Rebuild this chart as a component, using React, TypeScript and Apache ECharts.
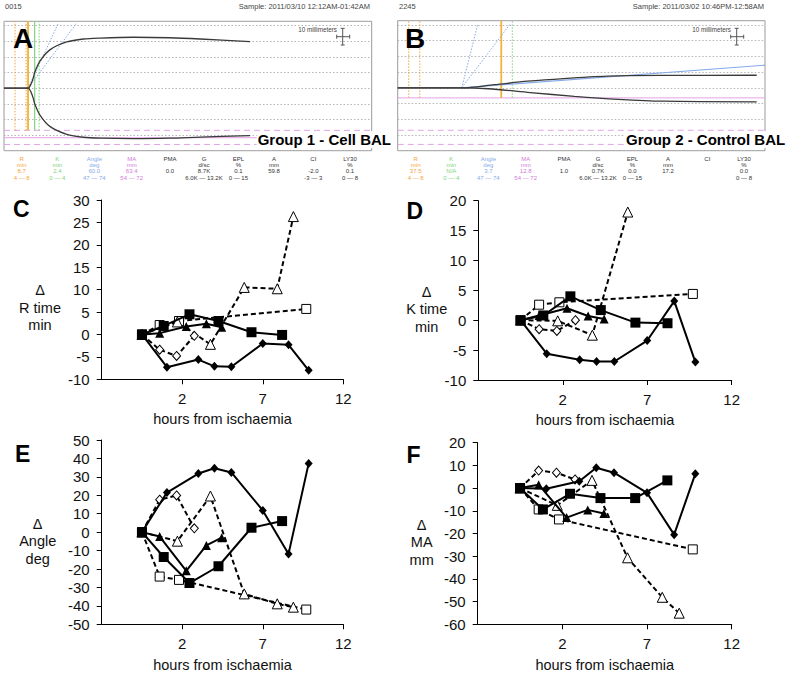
import React, { useEffect, useRef } from "react";
import * as echarts from "echarts";

const FONT = "'Liberation Sans', Arial, Helvetica, sans-serif";

// ---------------- Panels C–F : hours from ischaemia per animal ----------------
const hoursFilledDiamond = [-0.5, 1.05, 3.0, 4.0, 5.05, 7.0, 8.6, 9.85];
const hoursFilledSquare = [-0.5, 0.85, 2.45, 4.25, 6.3, 8.2];
const hoursFilledTriangle = [-0.5, 0.6, 2.25, 3.5, 4.45];
const hoursOpenDiamond = [-0.5, 0.6, 1.65, 2.75];
const hoursOpenSquare = [-0.5, 0.6, 1.8, 9.7];
const hoursOpenTriangle = [-0.5, 1.7, 3.75, 5.85, 7.9, 8.9];

// C: Δ R time (min)
const rFilledDiamond = [0, -7.3, -5.6, -7.1, -7.2, -2.0, -2.3, -8.0];
const rFilledSquare = [0, 1.9, 4.5, 3.0, 0.5, -0.1];
const rFilledTriangle = [0, 0.3, 1.8, 2.4, 1.6];
const rOpenDiamond = [0, -3.4, -4.8, -0.3];
const rOpenSquare = [0, 2.1, 3.0, 5.7];
const rOpenTriangle = [0, 2.8, -2.2, 10.5, 10.2, 26.3];

// D: Δ K time (min)
const kFilledDiamond = [0, -5.6, -6.6, -6.9, -6.9, -3.4, 3.2, -7.0];
const kFilledSquare = [0, 0.8, 4.0, 1.7, -0.4, -0.5];
const kFilledTriangle = [0, 0.8, 2.0, 0.7, 0.2];
const kOpenDiamond = [0, -1.5, -1.8, 0.0];
const kOpenSquare = [0, 2.6, 3.0, 4.4];
const kOpenTriangle = [0, -0.1, -2.5, 18.1];

// E: Δ Angle (deg)
const angleFilledDiamond = [0, 21.5, 31.8, 34.7, 32.4, 11.8, -11.8, 37.3];
const angleFilledSquare = [0, -13.5, -27.6, -18.5, 2.4, 6.0];
const angleFilledTriangle = [0, -2.4, -21, -7.2, -3.0];
const angleOpenDiamond = [0, 17.6, 19.9, 2.1];
const angleOpenSquare = [0, -24.1, -25.9, -42];
const angleOpenTriangle = [0, -4.9, 19.6, -33.5, -38.9, -40.7];

// F: Δ MA (mm)
const maFilledDiamond = [0, -0.3, 3.0, 9.0, 6.8, -2.1, -20.5, 6.3];
const maFilledSquare = [0, -9.4, -2.5, -4.4, -4.4, 3.4];
const maFilledTriangle = [0, 1.5, -13, -9.6, -11.2];
const maOpenDiamond = [0, 7.7, 6.8, 3.8];
const maOpenSquare = [0, -9.4, -13.8, -27];
const maOpenTriangle = [0, -7.6, 3.4, -30.7, -48.1, -55.1];

const xTickValues = [2, 7, 12];
const xAxisTitle = "hours from ischaemia";

// ---------------- Panels A, B : TEG tracings ----------------
const tegColumns = ["R", "K", "Angle", "MA", "PMA", "G", "EPL", "A", "CI", "LY30"];
const tegUnits = ["min", "min", "deg", "mm", "", "d/sc", "%", "mm", "", "%"];
const tegValuesA = ["8.7", "2.4", "60.0", "63.4", "0.0", "8.7K", "0.1", "59.8", "-2.0", "0.1"];
const tegRangesA = ["4 — 8", "0 — 4", "47 — 74", "54 — 72", "", "6.0K — 13.2K", "0 — 15", "", "-3 — 3", "0 — 8"];
const tegValuesB = ["37.5", "N/A", "3.7", "12.8", "1.0", "0.7K", "0.0", "17.2", "", "0.0"];
const tegRangesB = ["4 — 8", "0 — 4", "47 — 74", "54 — 72", "", "6.0K — 13.2K", "0 — 15", "", "", "0 — 8"];
const tegIdA = "0015";
const tegSampleA = "Sample: 2011/03/10 12:12AM-01:42AM";
const tegIdB = "2245";
const tegSampleB = "Sample: 2011/03/02 10:46PM-12:58AM";
const groupLabelA = "Group 1 - Cell BAL";
const groupLabelB = "Group 2 - Control BAL";

const rNormal = [4, 8]; // min
const kNormalMax = 4; // min
const maNormal = [54, 72]; // mm

// trace A (minutes, mm)
const tegATime = [0, 8.7, 9.8, 10.6, 11.1, 13.0, 16.7, 22.7, 28.7, 34.8, 46.7, 60, 71, 89];
const tegAUpper = [0, 0, 2.7, 6.6, 10, 17.2, 24.6, 29.5, 31.4, 32.0, 32.5, 32.2, 31.4, 29.7];
const tegALower = [0, 0, -2.7, -6.6, -10, -17.2, -24.6, -29.5, -31.4, -32.0, -32.3, -32.0, -31.3, -30.4];
const tegAAngleTips = [[19.7, 41.6], [26.3, 41.6]];

// trace B (minutes, mm)
const tegBUpperTime = [0, 23.2, 35, 47, 60, 76, 95, 130];
const tegBUpper = [0, 0, 2.0, 4.2, 5.9, 7.4, 7.9, 8.0];
const tegBLowerTime = [0, 23.2, 32.8, 48, 64, 80, 96, 130];
const tegBLower = [0, 0, -0.6, -3.0, -5.4, -7.3, -8.5, -8.9];
const tegBAngleTips = [[29, 40.5], [40.7, 40.5]];
const tegBAngleLine = [[23.2, 0], [133, 14.4]];

const TEG_MINUTES = 133;

// ---------------- styles ----------------
const ORANGE = "#f2a53c";
const ORANGE_SOLID = "#f1b33a";
const GREEN = "#7ed47e";
const BLUE = "#86abe8";
const PINK = "#e2a4e6";
const tegColColors = [ORANGE, GREEN, BLUE, "#d47ad9", "#333", "#333", "#333", "#333", "#333", "#333"];

const markerStyles = [
  { symbol: "diamond", size: [8, 9], open: false },
  { symbol: "rect", size: 10, open: false },
  { symbol: "triangle", size: 9, open: false },
  { symbol: "diamond", size: [8, 9], open: true },
  { symbol: "rect", size: 9, open: true },
  { symbol: "triangle", size: 10, open: true },
];
const hoursBySeries = [
  hoursFilledDiamond,
  hoursFilledSquare,
  hoursFilledTriangle,
  hoursOpenDiamond,
  hoursOpenSquare,
  hoursOpenTriangle,
];

const panels = [
  {
    letter: "C",
    title: "Δ\nR time\nmin",
    ys: [rFilledDiamond, rFilledSquare, rFilledTriangle, rOpenDiamond, rOpenSquare, rOpenTriangle],
    yMin: -10, yMax: 30, yInterval: 5,
    grid: { left: 101.7, top: 200, width: 241.6, height: 179.3 },
    letterPos: [13, 208.5], titlePos: [40, 307.8], nameGap: 32,
  },
  {
    letter: "D",
    title: "Δ\nK time\nmin",
    ys: [kFilledDiamond, kFilledSquare, kFilledTriangle, kOpenDiamond, kOpenSquare, kOpenTriangle],
    yMin: -10, yMax: 20, yInterval: 5,
    grid: { left: 478.3, top: 200.7, width: 253.4, height: 179.3 },
    letterPos: [406.5, 210.8], titlePos: [426.7, 309], nameGap: 32,
  },
  {
    letter: "E",
    title: "Δ\nAngle\ndeg",
    ys: [angleFilledDiamond, angleFilledSquare, angleFilledTriangle, angleOpenDiamond, angleOpenSquare, angleOpenTriangle],
    yMin: -50, yMax: 50, yInterval: 10,
    grid: { left: 101.7, top: 440, width: 241.6, height: 184.3 },
    letterPos: [15, 454], titlePos: [37.7, 541], nameGap: 33,
  },
  {
    letter: "F",
    title: "Δ\nMA\nmm",
    ys: [maFilledDiamond, maFilledSquare, maFilledTriangle, maOpenDiamond, maOpenSquare, maOpenTriangle],
    yMin: -60, yMax: 20, yInterval: 10,
    grid: { left: 477.7, top: 442.7, width: 254, height: 181.6 },
    letterPos: [406.5, 455], titlePos: [421.7, 542], nameGap: 33,
  },
];

const zip = (xs: number[], ys: number[]) => xs.map((x, i) => [x, ys[i]]);

function lineSeries(gi: number, data: number[][], color: string, width: number, type: any, smooth: any = false, z = 2) {
  return {
    type: "line",
    xAxisIndex: gi,
    yAxisIndex: gi,
    data,
    symbol: "none",
    smooth,
    silent: true,
    z,
    lineStyle: { color, width, type },
  };
}

function tegSeries(gi: number, values: string[], traces: number[][][], angleTips: number[][], extraBlue?: number[][]) {
  const r = parseFloat(values[0]);
  const k = parseFloat(values[1]);
  const ma = parseFloat(values[3]);
  const top = 42.7;
  const bottom = Math.max(-ma / 2, -maNormal[0] / 2);
  const out: any[] = [];
  out.push(lineSeries(gi, [[0, -maNormal[0] / 2], [TEG_MINUTES, -maNormal[0] / 2]], PINK, 1, [6, 4]));
  out.push(lineSeries(gi, [[0, -maNormal[1] / 2], [TEG_MINUTES, -maNormal[1] / 2]], PINK, 1, [6, 4]));
  out.push(lineSeries(gi, [[0, -ma / 2], [TEG_MINUTES, -ma / 2]], PINK, 1, "solid"));
  rNormal.forEach((v) => out.push(lineSeries(gi, [[v, bottom], [v, top]], ORANGE, 1, [1.5, 1.5])));
  out.push(lineSeries(gi, [[r, bottom], [r, top]], ORANGE_SOLID, 1.8, "solid"));
  if (isFinite(k)) out.push(lineSeries(gi, [[r + k, bottom], [r + k, top]], GREEN, 1.2, "solid"));
  out.push(lineSeries(gi, [[r + kNormalMax, bottom], [r + kNormalMax, top]], GREEN, 1, [1.5, 1.5]));
  const origin = traces[0].find((p, i) => i > 0 && p[1] === 0 && traces[0][i + 1] && traces[0][i + 1][1] !== 0) || traces[0][1];
  angleTips.forEach((tip) => out.push(lineSeries(gi, [origin, tip], BLUE, 1, [1.5, 1.5])));
  if (extraBlue) out.push(lineSeries(gi, extraBlue, BLUE, 1.2, "solid"));
  traces.forEach((t) => out.push(lineSeries(gi, t, "#3a3a3a", 1.3, "solid", 0.3, 4)));
  return out;
}

function tegText(dx: number, id: string, sample: string, values: string[], ranges: string[], group: string) {
  const colX = [21.7, 57.3, 94.3, 131.7, 170, 204, 238.3, 274, 313.3, 350];
  const rowY = [159.3, 165, 171.3, 177.6];
  const els: any[] = [];
  const t = (x: number, y: number, text: string, fill: string, size: number, align = "center", extra: any = {}) => ({
    type: "text",
    x,
    y,
    silent: true,
    z: 10,
    style: { text, fill, fontSize: size, fontFamily: FONT, align, verticalAlign: "middle", ...extra },
  });
  els.push(t(5 + dx, 6.7, id, "#444", 7.5, "left"));
  els.push(t(370 + dx, 6.7, sample, "#444", 7.5, "right"));
  tegColumns.forEach((c, i) => {
    const x = colX[i] + dx;
    const col = tegColColors[i];
    els.push(t(x, rowY[0], c, col, 6));
    if (tegUnits[i]) els.push(t(x, rowY[1], tegUnits[i], col, 6));
    if (values[i]) els.push(t(x, rowY[2], values[i], col, 6));
    if (ranges[i]) els.push(t(x, rowY[3], ranges[i], col, 6));
  });
  els.push(t(337 + dx, 29.3, "10 millimeters", "#444", 6.3, "right"));
  const cx = 342.7 + dx;
  const ln = (x1: number, y1: number, x2: number, y2: number) => ({
    type: "line",
    silent: true,
    z: 10,
    shape: { x1, y1, x2, y2 },
    style: { stroke: "#555", lineWidth: 1 },
  });
  els.push(ln(cx, 28.3, cx, 45));
  els.push(ln(cx - 2, 28.3, cx + 2, 28.3));
  els.push(ln(cx - 2, 45, cx + 2, 45));
  els.push(ln(cx - 6, 36.7, cx + 7, 36.7));
  els.push(ln(cx - 6, 34.7, cx - 6, 38.7));
  els.push(ln(cx + 7, 34.7, cx + 7, 38.7));
  els.push(
    t(256.7 + dx + (dx ? -25.7 : 0), 139.5, group, "#000", 15, "left", {
      fontWeight: "bold",
      backgroundColor: "#fff",
      padding: [1, 1],
    })
  );
  return els;
}

function buildOption() {
  const grid: any[] = [
    { left: 4, top: 21.3, width: 367.7, height: 129.4, show: true, borderColor: "#9a9a9a", borderWidth: 1, backgroundColor: "transparent", containLabel: false, outerBoundsMode: "none" },
    { left: 397.7, top: 20.7, width: 367.3, height: 130, show: true, borderColor: "#9a9a9a", borderWidth: 1, backgroundColor: "transparent", containLabel: false, outerBoundsMode: "none" },
    ...panels.map((p) => ({ ...p.grid, containLabel: false, outerBoundsMode: "none" })),
  ];
  const tegX = (gi: number) => ({ type: "value", gridIndex: gi, min: 0, max: TEG_MINUTES, show: false });
  const tegY = (gi: number) => ({
    type: "value",
    gridIndex: gi,
    min: -40,
    max: 42.7,
    interval: 10,
    axisLine: { show: false },
    axisTick: { show: false },
    axisLabel: { show: false },
    splitLine: { show: true, lineStyle: { color: "#b5b5b5", type: [1.5, 2], width: 1 } },
  });
  const labelStyle = { fontSize: 15, color: "#111", fontFamily: FONT };
  const xAxis: any[] = [
    tegX(0),
    tegX(1),
    ...panels.map((p, i) => ({
      type: "value",
      gridIndex: i + 2,
      min: -3,
      max: 12,
      axisLine: { show: true, onZero: false, lineStyle: { color: "#000", width: 1 } },
      axisTick: { show: true, customValues: xTickValues, length: 5, lineStyle: { color: "#000" } },
      axisLabel: { customValues: xTickValues, margin: 12, ...labelStyle },
      splitLine: { show: false },
      name: xAxisTitle,
      nameLocation: "middle",
      nameGap: p.nameGap,
      nameTextStyle: { fontSize: 14.5, color: "#111", fontFamily: FONT },
    })),
  ];
  const yAxis: any[] = [
    tegY(0),
    tegY(1),
    ...panels.map((p, i) => ({
      type: "value",
      gridIndex: i + 2,
      min: p.yMin,
      max: p.yMax,
      interval: p.yInterval,
      axisLine: { show: true, onZero: false, lineStyle: { color: "#000", width: 1 } },
      axisTick: { show: true, length: 5, lineStyle: { color: "#000" } },
      axisLabel: { margin: 12, ...labelStyle },
      splitLine: { show: false },
    })),
  ];

  const series: any[] = [];
  series.push(
    ...tegSeries(0, tegValuesA, [zip(tegATime, tegAUpper), zip(tegATime, tegALower)], tegAAngleTips)
  );
  series.push(
    ...tegSeries(1, tegValuesB, [zip(tegBUpperTime, tegBUpper), zip(tegBLowerTime, tegBLower)], tegBAngleTips, tegBAngleLine)
  );

  panels.forEach((p, pi) => {
    const gi = pi + 2;
    // open (dashed) series first, filled (solid) series on top
    [3, 4, 5, 0, 2, 1].forEach((si) => {
      const st = markerStyles[si];
      const xs = hoursBySeries[si];
      const ys = p.ys[si];
      series.push({
        type: "line",
        xAxisIndex: gi,
        yAxisIndex: gi,
        data: ys.map((y, j) => [xs[j], y]),
        symbol: st.symbol,
        symbolSize: st.size,
        showSymbol: true,
        silent: true,
        z: st.open ? 3 : 4,
        lineStyle: { color: "#000", width: 2, type: st.open ? [5, 3] : "solid" },
        itemStyle: st.open
          ? { color: "#fff", borderColor: "#000", borderWidth: 1 }
          : { color: "#000", borderColor: "#000", borderWidth: 0 },
      });
    });
  });

  const graphic: any[] = [];
  graphic.push(...tegText(0, tegIdA, tegSampleA, tegValuesA, tegRangesA, groupLabelA));
  graphic.push(...tegText(394, tegIdB, tegSampleB, tegValuesB, tegRangesB, groupLabelB));
  const bigLetter = (x: number, y: number, text: string, size: number) => ({
    type: "text",
    x,
    y,
    silent: true,
    z: 10,
    style: { text, fill: "#000", fontSize: size, fontWeight: "bold", fontFamily: FONT, align: "left", verticalAlign: "middle" },
  });
  graphic.push(bigLetter(13, 38.5, "A", 28));
  graphic.push(bigLetter(405, 38.3, "B", 28));
  panels.forEach((p) => {
    graphic.push(bigLetter(p.letterPos[0], p.letterPos[1], p.letter, 23));
    graphic.push({
      type: "text",
      x: p.titlePos[0],
      y: p.titlePos[1],
      silent: true,
      style: {
        text: p.title,
        fill: "#111",
        fontSize: 14.5,
        fontFamily: FONT,
        align: "center",
        verticalAlign: "middle",
        lineHeight: 17.5,
      },
    });
  });

  return {
    animation: false,
    backgroundColor: "#fff",
    grid,
    xAxis,
    yAxis,
    series,
    graphic,
  };
}

export default function App() {
  const ref = useRef<HTMLDivElement>(null);
  useEffect(() => {
    if (!ref.current) return;
    const chart = echarts.init(ref.current, null, { renderer: "svg" });
    chart.setOption(buildOption() as any);
    return () => chart.dispose();
  }, []);
  return (
    <div
      ref={ref}
      style={{ position: "absolute", left: 0, top: 0, width: 790, height: 674, background: "#fff" }}
    />
  );
}
